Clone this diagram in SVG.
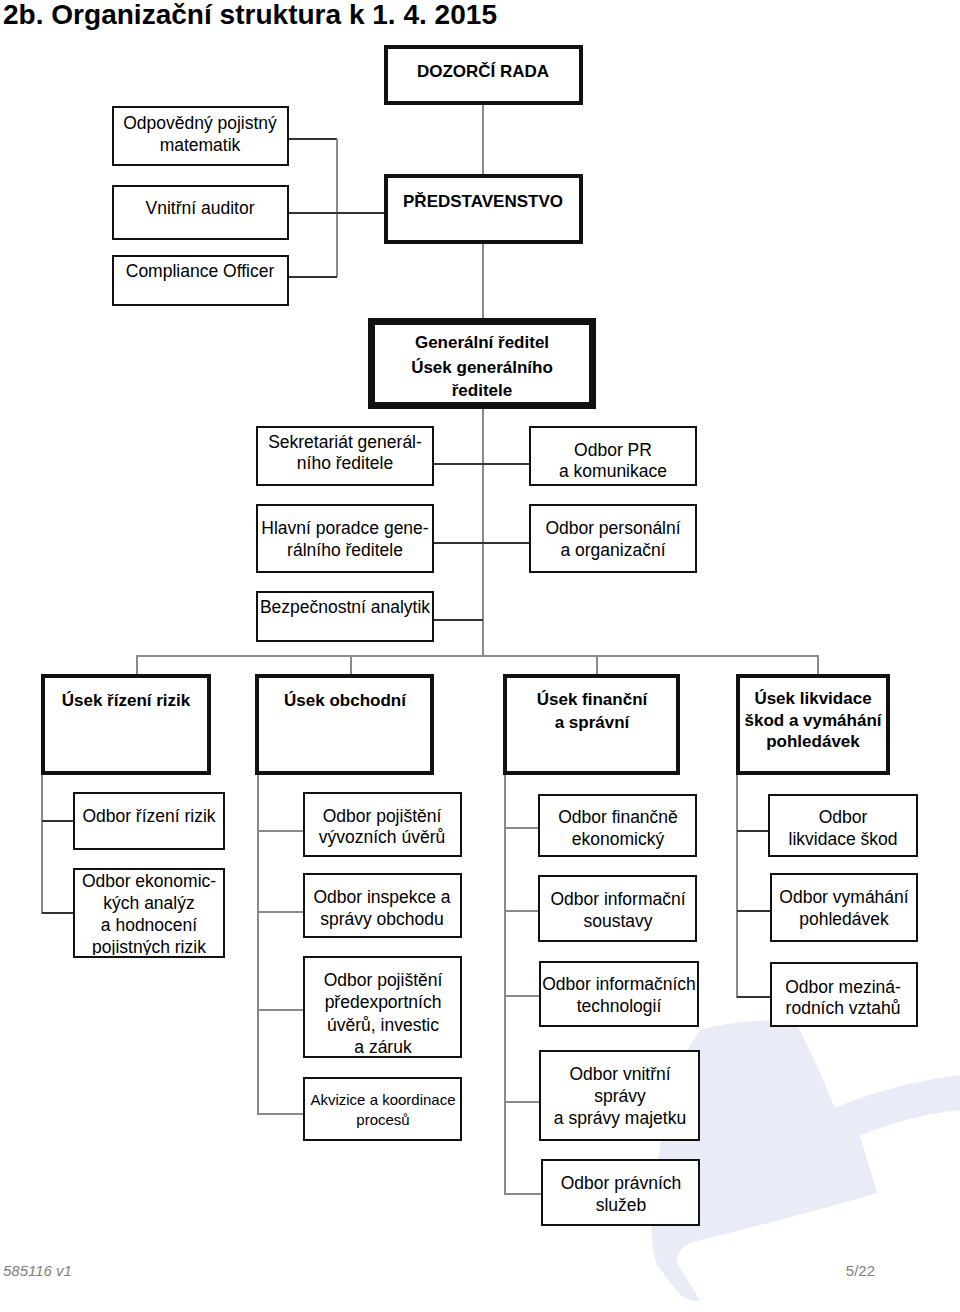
<svg xmlns="http://www.w3.org/2000/svg" width="960" height="1312" viewBox="0 0 960 1312">
<style>
.box{fill:#fff;stroke:#111;stroke-width:2}
.thick{stroke-width:4}
.gen{stroke-width:7}
.t{font-family:"Liberation Sans",Arial,sans-serif;font-size:17.5px;text-anchor:middle;fill:#000}
.b{font-weight:bold;font-size:17px}
.s{font-size:15px}
.c line{stroke:#8a8a8a;stroke-width:2}
.c line.d{stroke:#333}
.foot{font-family:"Liberation Sans",Arial,sans-serif;font-size:15px;fill:#808080}
</style>
<defs>
<clipPath id="clipEko"><rect x="74" y="869" width="150" height="86"/></clipPath>
</defs>
<rect width="960" height="1312" fill="#fff"/>
<path id="watermark" fill="#e9ecf7" d="M700,1030 C730,1022 770,1018 795,1022 L800,1030 L822,1077 L835,1108 C870,1092 920,1080 960,1075 L960,1110 C930,1113 890,1122 860,1136 L877,1193 C820,1210 740,1230 690,1243 C680,1248 675,1258 678,1265 L700,1300 C690,1304 680,1296 672,1285 L657,1265 C648,1240 650,1190 660,1150 C665,1110 675,1065 700,1030 Z"/>
<text x="3" y="24" font-family="Liberation Sans,Arial,sans-serif" font-size="28" font-weight="bold" textLength="494" lengthAdjust="spacingAndGlyphs" fill="#000">2b. Organizační struktura k 1. 4. 2015</text>

<g class="c" id="connectors">
<line x1="483" y1="105" x2="483" y2="174"/>
<line x1="483" y1="244" x2="483" y2="318"/>
<line x1="483" y1="409" x2="483" y2="656"/>
<line class="d" x1="289" y1="139" x2="337" y2="139"/>
<line x1="337" y1="139" x2="337" y2="277"/>
<line class="d" x1="289" y1="277" x2="337" y2="277"/>
<line class="d" x1="289" y1="213" x2="384" y2="213"/>
<line class="d" x1="434" y1="464" x2="529" y2="464"/>
<line class="d" x1="434" y1="543" x2="529" y2="543"/>
<line class="d" x1="434" y1="620" x2="483" y2="620"/>
<line x1="136" y1="656" x2="819" y2="656"/>
<line x1="137" y1="656" x2="137" y2="674"/>
<line x1="351" y1="656" x2="351" y2="674"/>
<line x1="597" y1="656" x2="597" y2="674"/>
<line x1="818" y1="656" x2="818" y2="674"/>
<line x1="42" y1="775" x2="42" y2="914"/>
<line class="d" x1="42" y1="821" x2="73" y2="821"/>
<line class="d" x1="42" y1="913" x2="73" y2="913"/>
<line x1="258" y1="775" x2="258" y2="1115"/>
<line x1="258" y1="831" x2="303" y2="831"/>
<line x1="258" y1="912" x2="303" y2="912"/>
<line x1="258" y1="1010" x2="303" y2="1010"/>
<line x1="258" y1="1114" x2="303" y2="1114"/>
<line x1="505" y1="775" x2="505" y2="1195"/>
<line x1="505" y1="828" x2="538" y2="828"/>
<line x1="505" y1="911" x2="538" y2="911"/>
<line x1="505" y1="996" x2="539" y2="996"/>
<line x1="505" y1="1102" x2="539" y2="1102"/>
<line x1="505" y1="1194" x2="541" y2="1194"/>
<line x1="737" y1="775" x2="737" y2="998"/>
<line class="d" x1="737" y1="831" x2="768" y2="831"/>
<line class="d" x1="737" y1="911" x2="770" y2="911"/>
<line class="d" x1="737" y1="997" x2="770" y2="997"/>
</g>

<g id="dozorci"><rect class="box thick" x="386" y="47" width="195" height="56"/><text class="t b" x="483" y="77">DOZORČÍ RADA</text></g>
<g id="predstavenstvo"><rect class="box thick" x="386" y="176" width="195" height="66"/><text class="t b" x="483" y="207">PŘEDSTAVENSTVO</text></g>
<g id="odpovedny"><rect class="box" x="113" y="107" width="175" height="58"/><text class="t" x="200" y="129"><tspan x="200">Odpovědný pojistný</tspan><tspan x="200" y="151">matematik</tspan></text></g>
<g id="auditor"><rect class="box" x="113" y="186" width="175" height="53"/><text class="t" x="200" y="214">Vnitřní auditor</text></g>
<g id="compliance"><rect class="box" x="113" y="256" width="175" height="49"/><text class="t" x="200" y="277">Compliance Officer</text></g>
<g id="generalni"><rect class="box gen" x="371.5" y="321.5" width="221" height="84"/><text class="t b" x="482" y="348"><tspan x="482">Generální ředitel</tspan><tspan x="482" y="373">Úsek generálního</tspan><tspan x="482" y="396">ředitele</tspan></text></g>
<g id="sekretariat"><rect class="box" x="257" y="427" width="176" height="58"/><text class="t" x="345" y="448"><tspan x="345">Sekretariát generál-</tspan><tspan x="345" y="469">ního ředitele</tspan></text></g>
<g id="pr"><rect class="box" x="530" y="427" width="166" height="58"/><text class="t" x="613" y="456"><tspan x="613">Odbor PR</tspan><tspan x="613" y="477">a komunikace</tspan></text></g>
<g id="poradce"><rect class="box" x="257" y="505" width="176" height="67"/><text class="t" x="345" y="534"><tspan x="345">Hlavní poradce gene-</tspan><tspan x="345" y="556">rálního ředitele</tspan></text></g>
<g id="personalni"><rect class="box" x="530" y="505" width="166" height="67"/><text class="t" x="613" y="534"><tspan x="613">Odbor personální</tspan><tspan x="613" y="556">a organizační</tspan></text></g>
<g id="bezpecnostni"><rect class="box" x="257" y="592" width="176" height="49"/><text class="t" x="345" y="613">Bezpečnostní analytik</text></g>

<g id="usek-rizik"><rect class="box thick" x="43" y="676" width="166" height="97"/><text class="t b" x="126" y="706">Úsek řízení rizik</text></g>
<g id="usek-obchodni"><rect class="box thick" x="257" y="676" width="175" height="97"/><text class="t b" x="345" y="706">Úsek obchodní</text></g>
<g id="usek-financni"><rect class="box thick" x="505" y="676" width="173" height="97"/><text class="t b" x="592" y="705"><tspan x="592">Úsek finanční</tspan><tspan x="592" y="728">a správní</tspan></text></g>
<g id="usek-likvidace"><rect class="box thick" x="738" y="676" width="150" height="97"/><text class="t b" x="813" y="704"><tspan x="813">Úsek likvidace</tspan><tspan x="813" y="726">škod a vymáhání</tspan><tspan x="813" y="747">pohledávek</tspan></text></g>

<g id="odbor-rizeni"><rect class="box" x="74" y="793" width="150" height="56"/><text class="t" x="149" y="822">Odbor řízení rizik</text></g>
<g id="odbor-ekonomickych"><rect class="box" x="74" y="869" width="150" height="88"/><text class="t" x="149" y="887" clip-path="url(#clipEko)"><tspan x="149">Odbor ekonomic-</tspan><tspan x="149" y="909">kých analýz</tspan><tspan x="149" y="931">a hodnocení</tspan><tspan x="149" y="953">pojistných rizik</tspan></text></g>

<g id="odbor-vyvoznich"><rect class="box" x="304" y="793" width="157" height="63"/><text class="t" x="382" y="822"><tspan x="382">Odbor pojištění</tspan><tspan x="382" y="843">vývozních úvěrů</tspan></text></g>
<g id="odbor-inspekce"><rect class="box" x="304" y="874" width="157" height="63"/><text class="t" x="382" y="903"><tspan x="382">Odbor inspekce a</tspan><tspan x="382" y="925">správy obchodu</tspan></text></g>
<g id="odbor-predexportnich"><rect class="box" x="304" y="957" width="157" height="100"/><text class="t" x="383" y="986"><tspan x="383">Odbor pojištění</tspan><tspan x="383" y="1008">předexportních</tspan><tspan x="383" y="1031">úvěrů, investic</tspan><tspan x="383" y="1053">a záruk</tspan></text></g>
<g id="akvizice"><rect class="box" x="304" y="1078" width="157" height="62"/><text class="t s" x="383" y="1105"><tspan x="383">Akvizice a koordinace</tspan><tspan x="383" y="1125">procesů</tspan></text></g>

<g id="odbor-financne"><rect class="box" x="539" y="795" width="157" height="61"/><text class="t" x="618" y="823"><tspan x="618">Odbor finančně</tspan><tspan x="618" y="845">ekonomický</tspan></text></g>
<g id="odbor-soustavy"><rect class="box" x="539" y="876" width="157" height="65"/><text class="t" x="618" y="905"><tspan x="618">Odbor informační</tspan><tspan x="618" y="927">soustavy</tspan></text></g>
<g id="odbor-technologii"><rect class="box" x="540" y="962" width="158" height="64"/><text class="t" x="619" y="990"><tspan x="619">Odbor informačních</tspan><tspan x="619" y="1012">technologií</tspan></text></g>
<g id="odbor-vnitrni-spravy"><rect class="box" x="540" y="1051" width="159" height="89"/><text class="t" x="620" y="1080"><tspan x="620">Odbor vnitřní</tspan><tspan x="620" y="1102">správy</tspan><tspan x="620" y="1124">a správy majetku</tspan></text></g>
<g id="odbor-pravnich"><rect class="box" x="542" y="1160" width="157" height="65"/><text class="t" x="621" y="1189"><tspan x="621">Odbor právních</tspan><tspan x="621" y="1211">služeb</tspan></text></g>

<g id="odbor-likvidace"><rect class="box" x="769" y="795" width="148" height="61"/><text class="t" x="843" y="823"><tspan x="843">Odbor</tspan><tspan x="843" y="845">likvidace škod</tspan></text></g>
<g id="odbor-vymahani"><rect class="box" x="771" y="874" width="146" height="67"/><text class="t" x="844" y="903"><tspan x="844">Odbor vymáhání</tspan><tspan x="844" y="925">pohledávek</tspan></text></g>
<g id="odbor-mezinarodnich"><rect class="box" x="771" y="963" width="146" height="63"/><text class="t" x="843" y="993"><tspan x="843">Odbor meziná-</tspan><tspan x="843" y="1014">rodních vztahů</tspan></text></g>

<text class="foot" x="3" y="1276" font-style="italic">585116 v1</text>
<text class="foot" x="875" y="1276" text-anchor="end">5/22</text>
</svg>
